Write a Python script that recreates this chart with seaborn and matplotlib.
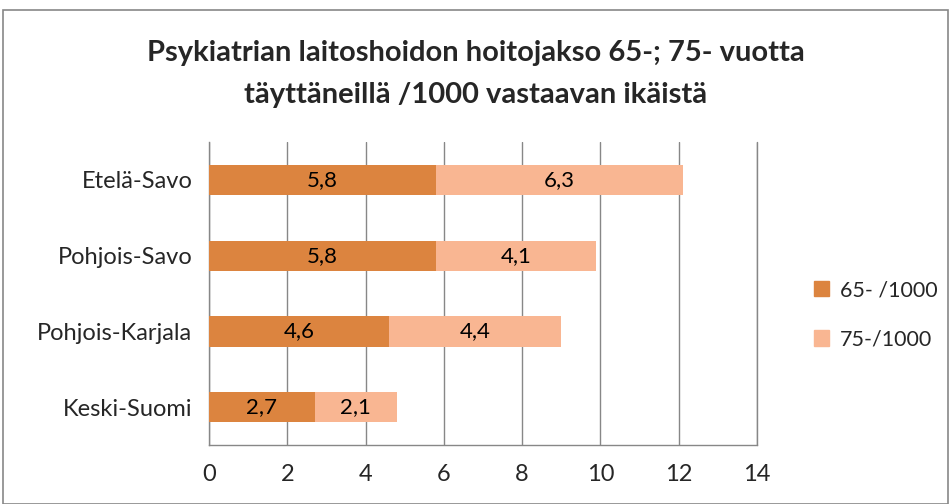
import matplotlib
matplotlib.use('Agg')
import matplotlib.pyplot as plt
import matplotlib.patches as mpatches
import seaborn as sns
import pandas as pd
import numpy as np

regions = ['Etelä-Savo', 'Pohjois-Savo', 'Pohjois-Karjala', 'Keski-Suomi']
s65 = [5.8, 5.8, 4.6, 2.7]
s75 = [6.3, 4.1, 4.4, 2.1]
series_names = ['65- /1000', '75-/1000']
xticks = [0, 2, 4, 6, 8, 10, 12, 14]

dark = '#DC843F'
light = '#F9B692'
grey = '#878787'

sns.set_theme(style='white')
plt.rcParams['font.family'] = ['Lato', 'DejaVu Sans']

df = pd.DataFrame({'region': regions, 's65': s65, 's75': s75})
df['total'] = df['s65'] + df['s75']

fig = plt.figure(figsize=(9.52, 5.04), dpi=100)
ax = fig.add_axes([0.2195, 0.117, 0.5756, 0.601])

# stacked bars: total in light colour first, then the 65- part on top
sns.barplot(data=df, x='total', y='region', orient='h', color=light,
            width=0.4, saturation=1, ax=ax, zorder=3, linewidth=0)
sns.barplot(data=df, x='s65', y='region', orient='h', color=dark,
            width=0.4, saturation=1, ax=ax, zorder=4, linewidth=0)

for i, row in df.iterrows():
    ax.text(row['s65'] / 2, i, f"{row['s65']:.1f}".replace('.', ','),
            ha='center', va='center', fontsize=16, color='black', zorder=5)
    ax.text(row['s65'] + row['s75'] / 2, i, f"{row['s75']:.1f}".replace('.', ','),
            ha='center', va='center', fontsize=16, color='black', zorder=5)

ax.set_xlim(0, 14)
ax.set_ylim(3.5, -0.5)
ax.set_xticks(xticks)
ax.set_xticklabels([str(t) for t in xticks], fontsize=17)
ax.set_yticks(range(len(regions)))
ax.set_yticklabels(regions, fontsize=17)
ax.set_yticks(np.arange(-0.5, len(regions), 1), minor=True)
ax.tick_params(axis='y', which='major', length=0, pad=12)
ax.tick_params(axis='y', which='minor', length=6, color=grey, width=1)
ax.tick_params(axis='x', length=6, color=grey, width=1, pad=8)
ax.set_xlabel('')
ax.set_ylabel('')

ax.grid(axis='x', color=grey, linewidth=1, zorder=0)
ax.axvline(xticks[-1], color=grey, linewidth=1, zorder=0, clip_on=False)
ax.set_axisbelow(True)
for side in ['top', 'right']:
    ax.spines[side].set_visible(False)
for side in ['left', 'bottom']:
    ax.spines[side].set_color(grey)
    ax.spines[side].set_linewidth(1)

fig.suptitle('Psykiatrian laitoshoidon hoitojakso 65-; 75- vuotta\ntäyttäneillä /1000 vastaavan ikäistä',
             x=0.5, y=0.92, fontsize=21, fontweight='bold', linespacing=1.75)

handles = [mpatches.Patch(color=dark, label=series_names[0]),
           mpatches.Patch(color=light, label=series_names[1])]
fig.legend(handles=handles, loc='center left', bbox_to_anchor=(0.835, 0.375),
           frameon=False, fontsize=15.5, handlelength=0.7, handleheight=0.7,
           handletextpad=0.5, labelspacing=1.35)

frame = mpatches.Rectangle((3 / 952, 0), 945 / 952, 494 / 504, transform=fig.transFigure,
                           fill=False, edgecolor=grey, linewidth=1.2)
fig.patches.append(frame)

fig.savefig('out.png', dpi=100)
